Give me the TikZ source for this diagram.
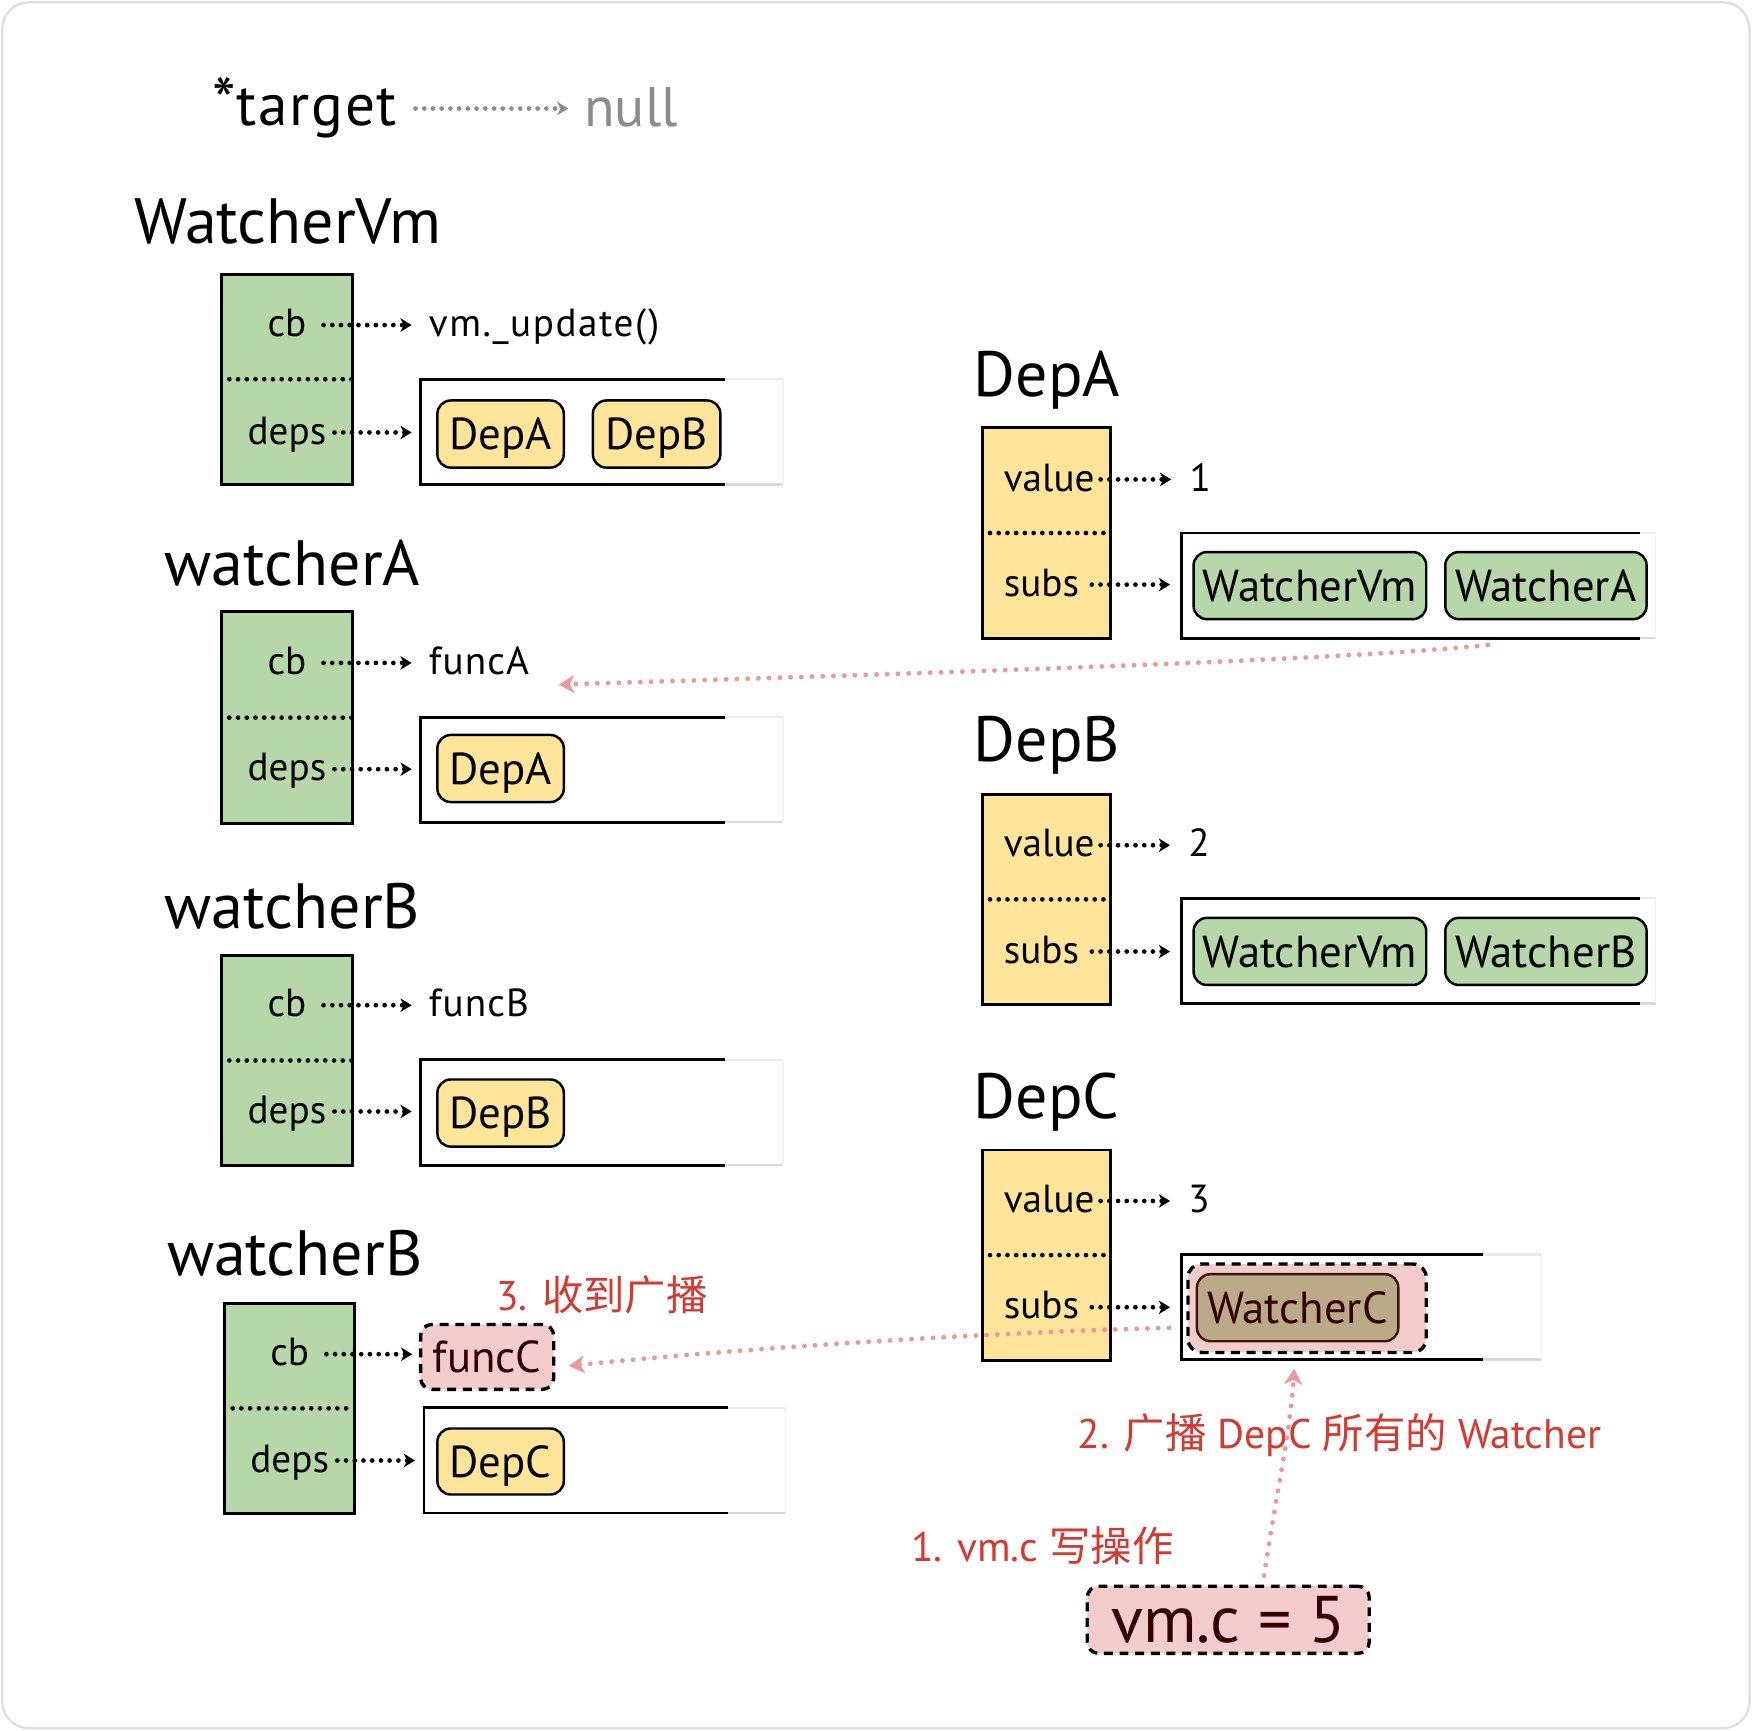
\documentclass[tikz,border=0pt]{standalone}
\usepackage{fontspec}
\setmainfont{PT Sans}
\newfontfamily\cjk{Noto Sans CJK SC}
\usetikzlibrary{arrows.meta,calc}
\definecolor{gfill}{HTML}{B6D7A8}
\definecolor{yfill}{HTML}{FFE599}
\definecolor{pfill}{HTML}{F4CCCC}
\definecolor{tfill}{HTML}{BBAA88}
\definecolor{maroon}{HTML}{330000}
\definecolor{redtxt}{HTML}{D33A31}
\definecolor{pinkarr}{HTML}{EA9A9A}
\definecolor{framec}{HTML}{DDDDDD}
\newcommand\mylistbox[2]{%
  \draw[line width=1.3pt] ($(#1.north west)+(#2,0)$) -- (#1.north west) -- (#1.south west) -- ($(#1.south west)+(#2,0)$);
  \draw[line width=1.1pt, black!8] ($(#1.north west)+(#2,0)$) -- (#1.north east);
  \draw[line width=1.1pt, black!15] ($(#1.south west)+(#2,0)$) -- (#1.south east);
  \draw[line width=0.6pt, black!5] (#1.north east) -- (#1.south east);
}
\begin{document}
\begin{tikzpicture}[x=0.5pt,y=-0.5pt,
  field/.style={draw=black, line width=1.3pt, minimum width=58.5pt, minimum height=94pt, inner sep=0pt, outer sep=0pt},
  gfield/.style={field, fill=gfill},
  yfield/.style={field, fill=yfill},
  lbl/.style={font=\fontsize{17.5}{20}\selectfont, inner sep=0pt, anchor=base},
  lblw/.style={font=\fontsize{17.5}{20}\selectfont, inner sep=0pt, anchor=base west},
  ttl/.style={font=\fontsize{28.6}{32}\selectfont, inner sep=0pt, anchor=base west},
  lboxn/.style={minimum width=162pt, minimum height=47pt, inner sep=0pt, outer sep=0pt},
  chip/.style={draw=black, line width=1.1pt, rounded corners=6pt, minimum height=30pt, inner sep=0pt, text height=14pt, text depth=0pt, font=\fontsize{20}{22}\selectfont},
  ychip/.style={chip, fill=yfill, minimum width=56.5pt},
  gchip/.style={chip, fill=gfill},
  dots/.style={line width=2.1pt, line cap=round, dash pattern=on 0pt off 3.9pt},
  darr/.style={dots, -{Stealth[length=5pt,width=6pt,inset=1.5pt]}},
  parr/.style={pinkarr, line width=2.2pt, line cap=round, dash pattern=on 0pt off 4.8pt, -{Stealth[length=7pt,width=8pt,inset=2pt]}},
  redl/.style={text=redtxt, font=\fontsize{18.5}{22}\selectfont, inner sep=0pt, anchor=west},
  dashbox/.style={draw=black, fill=pfill, line width=1.5pt, dash pattern=on 4pt off 3pt, rounded corners=5pt, inner sep=0pt}
]
\useasboundingbox (0,0) rectangle (1568,1547.4);
\fill[white] (0,0) rectangle (1568,1547.4);
\draw[framec, line width=1pt, rounded corners=12pt] (2,2) rectangle (1564,1545);

% target -> null
\node[font=\fontsize{26.5}{28}\selectfont\addfontfeatures{LetterSpace=3}, inner sep=0pt, anchor=base west] (tgt) at (190,112) {{\fontsize{30}{30}\selectfont*}target};
\node[font=\fontsize{25}{28}\selectfont, inner sep=0pt, anchor=base west, text=black!45] (nul) at (522,113) {null};
\draw[dots, black!45, -{Stealth[length=5pt,width=6pt,inset=1.5pt]}, shorten <=8pt, shorten >=7pt] ([yshift=7.5pt]tgt.base east) -- ([yshift=7.5pt]tgt.base east -| nul.west);

% ---------- WatcherVm ----------
\node[ttl] (tWVm) at (120,218) {WatcherVm};
\node[gfield] (g1) at (256.5,339) {};
\draw[dots] ($(g1.west)+(7,0)$) -- (g1.east);
\node[lbl] (cb1) at (256.5,301) {cb};
\node[lbl] (dp1) at (256.5,397) {deps};
\node[lblw] (upd) at (383,301) {\addfontfeatures{LetterSpace=4}vm.\_update(\kern1pt)};
\node[lboxn] (lb1) at (538,386) {};
\mylistbox{lb1}{272}
\node[ychip] (c1a) at (447.5,388) {DepA};
\node[ychip, minimum width=57pt] (c1b) at (587,388) {DepB};
\draw[darr, shorten <=7.5pt, shorten >=7.5pt] ([yshift=5.2pt]cb1.base east) -- ([yshift=5.2pt]cb1.base east -| upd.west);
\draw[darr, shorten <=3.5pt, shorten >=4pt] ([yshift=5.2pt]dp1.base east) -- ([yshift=5.2pt]dp1.base east -| lb1.west);

% ---------- watcherA ----------
\node[ttl] (tWA) at (147,523) {watcherA};
\node[gfield, minimum height=94.5pt] (g2) at (256.5,641.5) {};
\draw[dots] ($(g2.west)+(7,0)$) -- (g2.east);
\node[lbl] (cb2) at (256.5,603) {cb};
\node[lbl] (dp2) at (256.5,698) {deps};
\node[lblw] (fA) at (383,603) {\addfontfeatures{LetterSpace=3}funcA};
\node[lboxn] (lb2) at (538,688) {};
\mylistbox{lb2}{272}
\node[ychip] (c2a) at (447.5,687) {DepA};
\draw[darr, shorten <=7.5pt, shorten >=7.5pt] ([yshift=5.2pt]cb2.base east) -- ([yshift=5.2pt]cb2.base east -| fA.west);
\draw[darr, shorten <=3.5pt, shorten >=4pt] ([yshift=5.2pt]dp2.base east) -- ([yshift=5.2pt]dp2.base east -| lb2.west);

% ---------- watcherB ----------
\node[ttl] (tWB) at (147,830) {watcherB};
\node[gfield] (g3) at (256.5,948) {};
\draw[dots] ($(g3.west)+(7,0)$) -- (g3.east);
\node[lbl] (cb3) at (256.5,909) {cb};
\node[lbl] (dp3) at (256.5,1004) {deps};
\node[lblw] (fB) at (383,909) {\addfontfeatures{LetterSpace=3}funcB};
\node[lboxn] (lb3) at (538,994.5) {};
\mylistbox{lb3}{272}
\node[ychip] (c3a) at (447.5,995) {DepB};
\draw[darr, shorten <=7.5pt, shorten >=7.5pt] ([yshift=5.2pt]cb3.base east) -- ([yshift=5.2pt]cb3.base east -| fB.west);
\draw[darr, shorten <=3.5pt, shorten >=4pt] ([yshift=5.2pt]dp3.base east) -- ([yshift=5.2pt]dp3.base east -| lb3.west);

% ---------- watcherB (2) ----------
\node[ttl] (tWB2) at (149,1140) {watcherB};
\node[gfield, minimum width=58pt] (g4) at (259,1259) {};
\draw[dots] ($(g4.west)+(7,0)$) -- (g4.east);
\node[lbl] (cb4) at (259,1221) {cb};
\node[lbl] (dp4) at (259,1316) {deps};
\node[dashbox, minimum width=59.5pt, minimum height=29pt, text=maroon, font=\fontsize{20}{22}\selectfont, text height=14pt, text depth=0pt] (fC) at (435.5,1213) {funcC};
\node[lboxn, minimum width=161.5pt] (lb4) at (540.5,1305.5) {};
\mylistbox{lb4}{272}
\node[ychip, minimum height=29.5pt] (c4a) at (447.5,1306.5) {DepC};
\draw[darr, shorten <=7.5pt, shorten >=3pt] ([yshift=5.2pt]cb4.base east) -- ([yshift=5.2pt]cb4.base east -| fC.west);
\draw[darr, shorten <=3.5pt, shorten >=4pt] ([yshift=5.2pt]dp4.base east) -- ([yshift=5.2pt]dp4.base east -| lb4.west);
\node[redl] (l3) at (443,1158) {3. {\cjk 收到广播}};

% ---------- DepA ----------
\node[ttl] (tDA) at (870,354) {DepA};
\node[yfield, minimum width=57.5pt, minimum height=94.5pt] (y1) at (935.5,476.5) {};
\draw[dots] ($(y1.west)+(7,0)$) -- (y1.east);
\node[lblw] (v1) at (897,439) {value};
\node[lblw] (s1) at (897,533) {subs};
\node[lblw] (n1) at (1063,439) {1};
\node[lboxn, minimum width=212pt] (ld1) at (1268,523.5) {};
\mylistbox{ld1}{410}
\node[gchip, minimum width=104pt] (w1a) at (1171,523.5) {WatcherVm};
\node[gchip, minimum width=90pt] (w1b) at (1382,523.5) {WatcherA};
\draw[darr, shorten <=2.5pt, shorten >=8pt] ([yshift=5.2pt]v1.base east) -- ([yshift=5.2pt]v1.base east -| n1.west);
\draw[darr, shorten <=5.5pt, shorten >=5pt] ([yshift=5.2pt]s1.base east) -- ([yshift=5.2pt]s1.base east -| ld1.west);

% ---------- DepB ----------
\node[ttl] (tDB) at (870,681) {DepB};
\node[yfield, minimum width=57.5pt] (y2) at (935.5,804) {};
\draw[dots] ($(y2.west)+(7,0)$) -- (y2.east);
\node[lblw] (v2) at (897,766) {value};
\node[lblw] (s2) at (897,861) {subs};
\node[lblw] (n2) at (1062,766) {2};
\node[lboxn, minimum width=212pt] (ld2) at (1268,850) {};
\mylistbox{ld2}{410}
\node[gchip, minimum width=104pt] (w2a) at (1171,850.5) {WatcherVm};
\node[gchip, minimum width=90pt] (w2b) at (1382,850.5) {WatcherB};
\draw[darr, shorten <=2.5pt, shorten >=8pt] ([yshift=5.2pt]v2.base east) -- ([yshift=5.2pt]v2.base east -| n2.west);
\draw[darr, shorten <=5.5pt, shorten >=5pt] ([yshift=5.2pt]s2.base east) -- ([yshift=5.2pt]s2.base east -| ld2.west);

% ---------- DepC ----------
\node[ttl] (tDC) at (870,1000) {DepC};
\node[yfield, minimum width=57.5pt] (y3) at (935.5,1122) {};
\draw[dots] ($(y3.west)+(7,0)$) -- (y3.east);
\node[lblw] (v3) at (897,1084) {value};
\node[lblw] (s3) at (897,1179) {subs};
\node[lblw] (n3) at (1062,1084) {3};
\node[lboxn, minimum width=161pt] (ld3) at (1217,1168.5) {};
\mylistbox{ld3}{270}
\node[dashbox, minimum width=106.5pt, minimum height=39.5pt, rounded corners=6pt] (grp) at (1168.5,1169.5) {};
\node[chip, fill=tfill, draw={rgb,255:red,60;green,20;blue,10}, minimum width=90pt, text=maroon] (wc) at (1160,1169) {WatcherC};
\draw[darr, shorten <=2.5pt, shorten >=8pt] ([yshift=5.2pt]v3.base east) -- ([yshift=5.2pt]v3.base east -| n3.west);
\draw[darr, shorten <=5.5pt, shorten >=5pt] ([yshift=5.2pt]s3.base east) -- ([yshift=5.2pt]s3.base east -| ld3.west);

% ---------- write ----------
\node[dashbox, minimum width=126pt, minimum height=30pt, text=maroon, font=\fontsize{29.5}{31}\selectfont, text height=20.5pt, text depth=0pt] (vmc) at (1098,1448) {vm.c = 5};
\node[redl] (l2) at (963,1283) {2. {\cjk 广播} DepC {\cjk 所有的} Watcher};
\node[redl] (l1) at (814,1382) {1. vm.c {\cjk 写操作}};

% pink broadcast arrows
\draw[parr] ($(ld1.south west)+(274,6)$) .. controls +(-130,14) and +(320,-10) .. ($(fA.base east)+(26,9)$);
\draw[parr] ($(ld3.west)+(-11,18.5)$) .. controls +(-160,4) and +(160,-16) .. ($(fC.east)+(12,8)$);
\draw[parr] ($(vmc.north)+(32,-8)$) .. controls +(12,-80) and +(-4,60) .. ($(grp.south)+(-11.5,13)$);
\end{tikzpicture}
\end{document}
